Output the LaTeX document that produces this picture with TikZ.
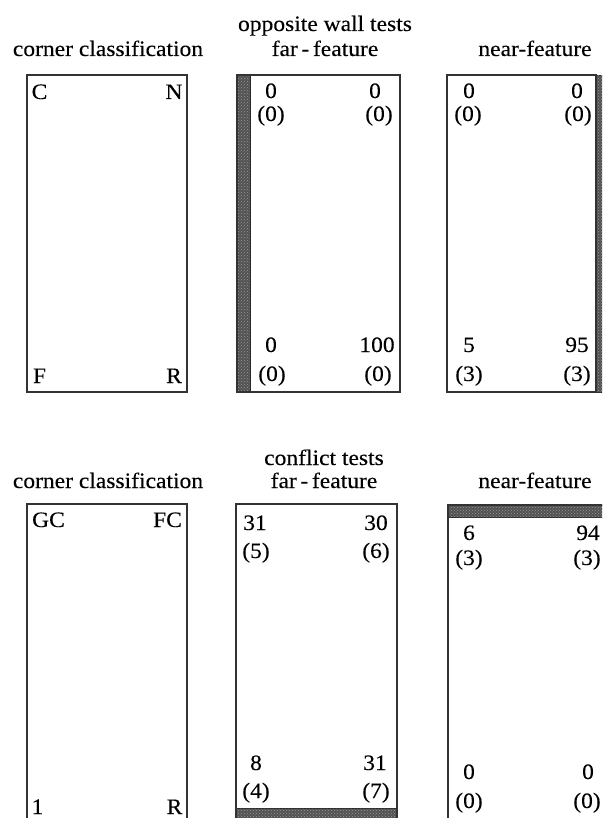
\documentclass[tikz,border=0pt]{standalone}
\usepackage{fontspec}
\setmainfont[FakeStretch=1.07,FakeBold=0.2]{Liberation Serif}
\usetikzlibrary{patterns}
\begin{document}
\begin{tikzpicture}[x=1pt,y=-1pt,
  lbl/.style={font=\fontsize{22}{24}\selectfont, inner sep=0pt, anchor=base, text=black},
  boxline/.style={draw=black!80, line width=1.7pt},
  hatch/.style={fill=black!68, postaction={pattern=crosshatch dots, pattern color=black!40}, draw=black!85, line width=0.8pt}]
\useasboundingbox (0,0) rectangle (602,818);
\clip (0,0) rectangle (602,818);

% ---------- top section ----------
\node[lbl] (tOW) at (325,31) {opposite wall tests};
\node[lbl] (tCC1) at (108,56) {corner classification};
\node[lbl] (tFF1) at (325,56) {far\,-\,feature};
\node[lbl] (tNF1) at (535,56) {near-feature};

% box 1
\draw[boxline] (27,75) rectangle (187,392);
\node[lbl] (b1C) at (39.5,99) {C};
\node[lbl] (b1N) at (174,99) {N};
\node[lbl] (b1F) at (39.5,383) {F};
\node[lbl] (b1R) at (174,383) {R};

% box 2
\filldraw[hatch] (237,75) rectangle (250,392);
\draw[boxline] (237,75) rectangle (400,392);
\node[lbl] (b2a) at (271,98) {0};
\node[lbl] (b2b) at (271,121) {(0)};
\node[lbl] (b2c) at (375,98) {0};
\node[lbl] (b2d) at (379,121) {(0)};
\node[lbl] (b2e) at (271,352) {0};
\node[lbl] (b2f) at (272,381) {(0)};
\node[lbl] (b2g) at (377,352) {100};
\node[lbl] (b2h) at (378,381) {(0)};

% box 3
\filldraw[hatch] (596,75) rectangle (612,392);
\draw[boxline] (447,75) rectangle (596,392);
\node[lbl] (b3a) at (469,98) {0};
\node[lbl] (b3b) at (468,121) {(0)};
\node[lbl] (b3c) at (577,98) {0};
\node[lbl] (b3d) at (578,121) {(0)};
\node[lbl] (b3e) at (469,352) {5};
\node[lbl] (b3f) at (469,381) {(3)};
\node[lbl] (b3g) at (577,352) {95};
\node[lbl] (b3h) at (577,381) {(3)};

% ---------- bottom section ----------
\node[lbl] (tCT) at (324,465) {conflict tests};
\node[lbl] (tCC2) at (108,488) {corner classification};
\node[lbl] (tFF2) at (324,488) {far\,-\,feature};
\node[lbl] (tNF2) at (535,488) {near-feature};

% box 4
\draw[boxline] (27,504) rectangle (187,830);
\node[lbl] (b4GC) at (48.5,527) {GC};
\node[lbl] (b4FC) at (167.5,527) {FC};
\node[lbl] (b4one) at (37.5,814) {1};
\node[lbl] (b4R) at (174.5,814) {R};

% box 5
\filldraw[hatch] (236,808) rectangle (397,830);
\draw[boxline] (236,504) rectangle (397,830);
\node[lbl] (b5a) at (255,530) {31};
\node[lbl] (b5b) at (256,558) {(5)};
\node[lbl] (b5c) at (376,530) {30};
\node[lbl] (b5d) at (376,558) {(6)};
\node[lbl] (b5e) at (256,770) {8};
\node[lbl] (b5f) at (256,798) {(4)};
\node[lbl] (b5g) at (375,770) {31};
\node[lbl] (b5h) at (376,798) {(7)};

% box 6
\filldraw[hatch] (448,505) rectangle (620,517);
\draw[boxline] (448,505) rectangle (620,830);
\node[lbl] (b6a) at (469,540) {6};
\node[lbl] (b6b) at (469,565) {(3)};
\node[lbl] (b6c) at (588,540) {94};
\node[lbl] (b6d) at (587,565) {(3)};
\node[lbl] (b6e) at (469,779) {0};
\node[lbl] (b6f) at (469,808) {(0)};
\node[lbl] (b6g) at (588,779) {0};
\node[lbl] (b6h) at (587,808) {(0)};
\end{tikzpicture}
\end{document}
